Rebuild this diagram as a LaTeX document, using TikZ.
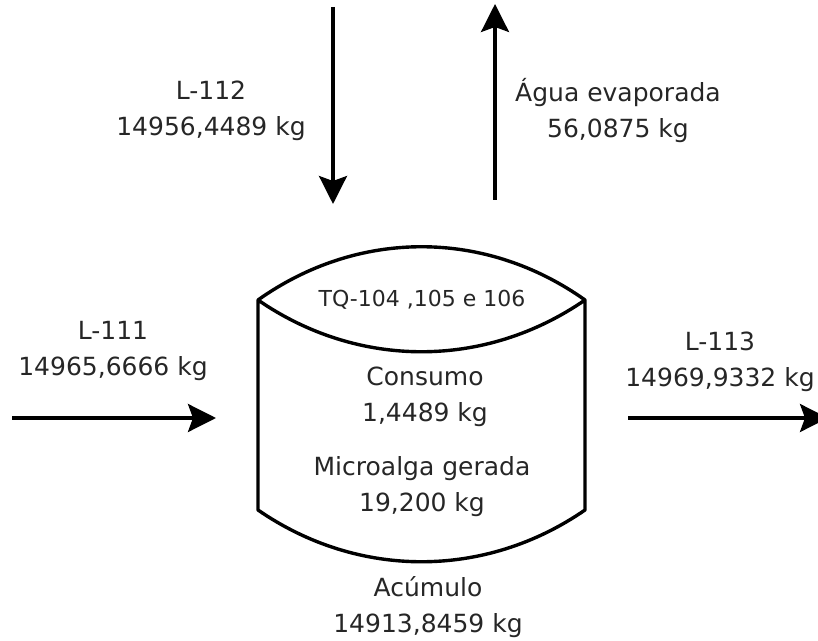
\documentclass[tikz,border=0pt]{standalone}
\usepackage{fontspec}
\setmainfont{DejaVu Sans}
\usetikzlibrary{arrows.meta}

\begin{document}
\begin{tikzpicture}[x=0.5pt, y=-0.5pt,
      flow/.style={line width=1.6pt, -{Stealth[length=14pt, width=14pt, inset=2.5pt]}},
      tank/.style={line width=1.7pt, line join=round},
      lab/.style={align=center, text=black!85, inner sep=0pt,
                  font=\fontsize{12.5}{18}\selectfont},
      tag/.style={text=black!85, inner sep=0pt,
                  font=\fontsize{11}{13}\selectfont}]
    \useasboundingbox (0,0) rectangle (818,641);

    % tank outline
    \coordinate (tl) at (258,300);
    \coordinate (tr) at (585,300);
    \coordinate (bl) at (258,510);
    \coordinate (br) at (585,510);
    \draw[tank] (tl) .. controls (358,229) and (485,229) .. (tr)
                     .. controls (485,369) and (358,369) .. (tl)
                     -- (bl) .. controls (358,579) and (485,579) .. (br)
                     -- (tr);

    \node[tag] (tq) at (422,300) {TQ-104 ,105 e 106};
    \node[lab] (cons) at (425,397) {Consumo\\1,4489 kg};
    \node[lab] (alga) at (422,487) {Microalga gerada\\19,200 kg};
    \node[lab] (acum) at (428,607) {Acúmulo\\14913,8459 kg};

    % streams
    \coordinate (l111a) at (12,418);
    \coordinate (l111b) at (216,418);
    \coordinate (l112a) at (333,7);
    \coordinate (l112b) at (333,204);
    \coordinate (evapa) at (495,200);
    \coordinate (evapb) at (495,4);
    \coordinate (l113a) at (628,418);
    \coordinate (l113b) at (828,418);
    \draw[flow] (l111a) -- (l111b);
    \draw[flow] (l112a) -- (l112b);
    \draw[flow] (evapa) -- (evapb);
    \draw[flow] (l113a) -- (l113b);

    \node[lab] (n111) at (113,351) {L-111\\14965,6666 kg};
    \node[lab] (n112) at (211,111) {L-112\\14956,4489 kg};
    \node[lab] (nevap) at (618,111) {Água evaporada\\56,0875 kg};
    \node[lab] (n113) at (720,362) {L-113\\14969,9332 kg};
  \end{tikzpicture}
\end{document}
